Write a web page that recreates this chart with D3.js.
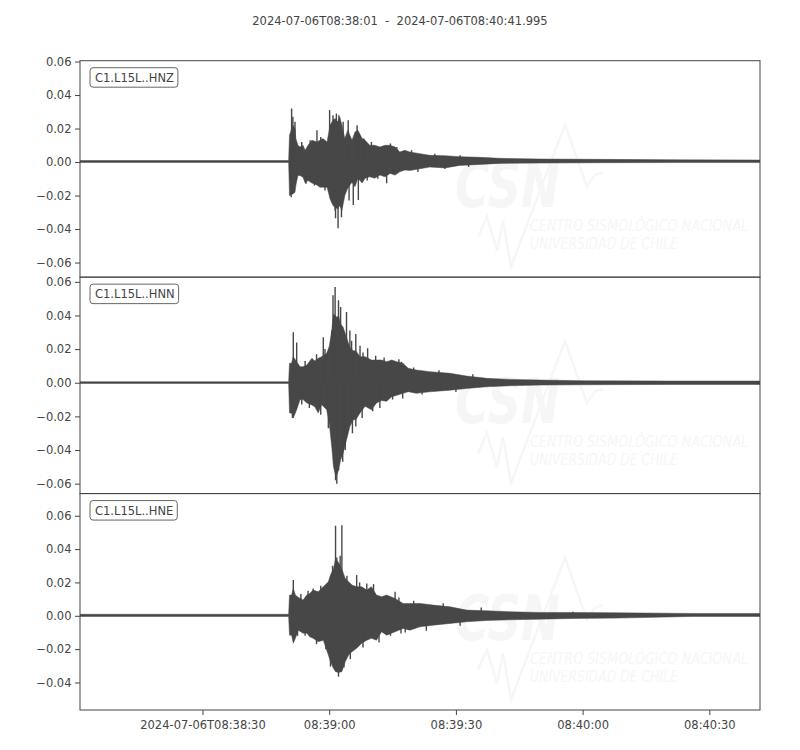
<!DOCTYPE html>
<html>
<head>
<meta charset="utf-8">
<script src="https://cdn.jsdelivr.net/npm/d3@7"></script>
<style>
  body { margin: 0; background: #fff; }
  svg { font-family: "DejaVu Sans", sans-serif; }
</style>
</head>
<body>
<div id="chart"></div>
<script>
// data, times are seconds after the start time
var startTime = "2024-07-06T08:38:01";
var endTime = "2024-07-06T08:40:41.995";
var traceIds = ["C1.L15L..HNZ", "C1.L15L..HNN", "C1.L15L..HNE"];
var yDomains = [[-0.0687, 0.0605], [-0.0659, 0.0628], [-0.0565, 0.0733]];
var yTicks = [
  [-0.06, -0.04, -0.02, 0, 0.02, 0.04, 0.06],
  [-0.06, -0.04, -0.02, 0, 0.02, 0.04, 0.06],
  [-0.04, -0.02, 0, 0.02, 0.04, 0.06]
];
var xTicks = ["08:38:30", "08:39:00", "08:39:30", "08:40:00", "08:40:30"];
var xTickLabels = ["2024-07-06T08:38:30", "08:39:00", "08:39:30", "08:40:00", "08:40:30"];

// HNZ envelope
var hnzT  = [0, 49.4, 49.6, 50.4, 50.9, 51.1, 51.6, 52.1, 52.8, 53.3, 54.0, 54.9, 56.1, 56.8, 57.5, 58.5, 59.2, 59.9, 60.4, 61.0,
             61.5, 62.0, 62.7, 63.4, 64.4, 65.1, 65.8, 66.8, 67.5, 68.6, 69.8, 71.0, 72.2, 73.4, 74.6, 75.7, 76.9, 78.1, 80.5, 82.8,
             86.4, 89.9, 94.7, 99.4, 108.9, 123.1, 142.0, 161.0];
var hnzHi = [0.0009, 0.0009, 0.016, 0.022, 0.020, 0.014, 0.010, 0.009, 0.010, 0.007, 0.010, 0.013, 0.012, 0.013, 0.014, 0.012, 0.022, 0.025, 0.026, 0.024,
             0.027, 0.022, 0.014, 0.019, 0.013, 0.018, 0.019, 0.014, 0.013, 0.010, 0.010, 0.009, 0.010, 0.010, 0.009, 0.006, 0.007, 0.006, 0.005, 0.004,
             0.0038, 0.0032, 0.0028, 0.0022, 0.0018, 0.0016, 0.0013, 0.0012];
var hnzLo = [-0.0002, -0.0002, -0.020, -0.019, -0.018, -0.014, -0.008, -0.008, -0.009, -0.0125, -0.011, -0.0125, -0.0137, -0.015, -0.015, -0.015, -0.022, -0.026, -0.027, -0.028,
             -0.026, -0.029, -0.020, -0.0155, -0.012, -0.0147, -0.0097, -0.0125, -0.0096, -0.0088, -0.0096, -0.0078, -0.0088, -0.0068, -0.0078, -0.0058, -0.0048, -0.005, -0.004, -0.003,
             -0.0035, -0.002, -0.0014, -0.0008, -0.0006, -0.0004, -0.0003, -0.0003];
var hnzSpikeT = [50.1, 50.4, 50.0, 50.9, 52.5, 53.5, 54.5, 55.5, 56.1, 57.0, 58.0, 59.1, 59.9, 60.4, 60.5, 60.7, 61.1, 61.3, 61.9, 62.3,
                 63.5, 63.7, 64.7, 65.6, 65.9, 66.0, 67.2, 68.0, 69.0, 70.5, 72.6, 73.5, 75.0, 78.5, 80.0, 84.0, 86.4, 90.0, 92.0];
var hnzSpikeV = [0.032, 0.027, -0.021, 0.024, 0.012, -0.013, 0.013, -0.014, 0.019, 0.015, -0.017, 0.031, 0.028, -0.029, -0.0336, 0.029, -0.0395, 0.028, -0.033, 0.024,
                 0.025, -0.023, -0.0257, 0.022, -0.0227, 0.017, 0.014, -0.011, 0.012, -0.010, -0.0127, 0.011, 0.009, 0.007, -0.006, 0.005, -0.0042, 0.004, -0.003];

// HNN envelope
var hnnT  = [0, 49.4, 49.6, 50.1, 50.5, 51.3, 52.1, 52.8, 53.7, 54.9, 55.6, 56.4, 57.2, 58.4, 59.0, 59.6, 60.0, 60.4, 60.8, 61.2,
             61.7, 62.3, 63.1, 63.9, 64.7, 65.3, 66.3, 67.5, 69.0, 70.2, 71.4, 72.6, 73.8, 75.0, 76.5, 77.7, 79.6, 82.8, 87.6, 91.5,
             96.3, 101.8, 108.9, 119.0, 140.0, 161.0];
var hnnHi = [0.0006, 0.0006, 0.0116, 0.0116, 0.0155, 0.0125, 0.0095, 0.0095, 0.0105, 0.0145, 0.013, 0.0145, 0.0155, 0.0175, 0.0215, 0.031, 0.041, 0.040, 0.039, 0.040,
             0.035, 0.033, 0.027, 0.021, 0.019, 0.019, 0.0155, 0.0155, 0.0135, 0.0135, 0.0135, 0.0125, 0.0135, 0.0125, 0.0115, 0.0086, 0.0076, 0.0066, 0.0056, 0.004,
             0.0026, 0.002, 0.0016, 0.0012, 0.0010, 0.0010];
var hnnLo = [-0.0004, -0.0004, -0.018, -0.018, -0.021, -0.016, -0.010, -0.010, -0.012, -0.0133, -0.0143, -0.018, -0.013, -0.016, -0.024, -0.038, -0.050, -0.054, -0.055, -0.052,
             -0.046, -0.042, -0.034, -0.026, -0.022, -0.022, -0.018, -0.014, -0.016, -0.012, -0.0106, -0.011, -0.0083, -0.0075, -0.0063, -0.0053, -0.0063, -0.0054, -0.0044, -0.0034,
             -0.0024, -0.0018, -0.0014, -0.0012, -0.0010, -0.0010];
var hnnSpikeT = [50.5, 51.3, 50.3, 52.5, 53.3, 54.3, 56.0, 57.0, 57.6, 58.0, 58.8, 59.6, 59.9, 60.4, 60.5, 60.8, 61.2, 61.2, 61.7, 62.2,
                 62.8, 63.1, 63.9, 64.3, 64.5, 65.3, 65.3, 66.3, 66.8, 67.0, 68.1, 69.3, 70.0, 71.0, 72.0, 74.0, 75.5, 76.1, 76.4, 79.0,
                 81.0, 85.0, 89.0, 93.0];
var hnnSpikeV = [0.030, 0.024, -0.021, -0.013, 0.013, -0.015, 0.017, -0.019, 0.027, 0.020, -0.027, 0.031, 0.052, 0.057, -0.058, -0.060, 0.049, -0.052, 0.045, -0.047,
                 -0.040, 0.042, 0.031, 0.025, -0.030, 0.029, -0.026, 0.022, -0.021, 0.018, 0.0205, -0.017, 0.016, -0.015, 0.015, -0.010, 0.014, 0.0125, -0.0093, 0.009,
                 -0.007, 0.0075, -0.0055, 0.005];

// HNE envelope
var hneT  = [0, 49.4, 49.6, 50.1, 50.5, 51.0, 51.7, 52.8, 53.7, 54.4, 55.2, 56.4, 57.6, 58.8, 59.3, 60.0, 60.5, 61.2, 62.0, 62.8,
             63.6, 64.4, 65.5, 66.7, 67.9, 69.0, 70.2, 71.4, 72.6, 74.6, 76.5, 78.1, 80.5, 83.6, 87.6, 91.5, 96.3, 101.8, 108.9, 116.7,
             127.0, 145.0, 161.0];
var hneHi = [0.0009, 0.0009, 0.0124, 0.0124, 0.0164, 0.0124, 0.011, 0.0095, 0.0124, 0.0134, 0.0154, 0.0144, 0.0174, 0.0204, 0.0244, 0.028, 0.034, 0.032, 0.028, 0.0224,
             0.0204, 0.0184, 0.0174, 0.0174, 0.0154, 0.0174, 0.0124, 0.0114, 0.0124, 0.0104, 0.0074, 0.0074, 0.0074, 0.0064, 0.0054, 0.0034, 0.003, 0.0024, 0.002, 0.002,
             0.0018, 0.0014, 0.0014];
var hneLo = [-0.0004, -0.0004, -0.0116, -0.0116, -0.0165, -0.0135, -0.0086, -0.0104, -0.0104, -0.0126, -0.0135, -0.0156, -0.0146, -0.0235, -0.0275, -0.0315, -0.0335, -0.034, -0.0335, -0.0275,
             -0.0235, -0.0215, -0.0195, -0.0165, -0.0146, -0.0135, -0.0146, -0.0096, -0.0116, -0.0096, -0.0076, -0.0086, -0.0066, -0.0056, -0.0046, -0.0036, -0.0028, -0.0024, -0.002, -0.0016,
             -0.0014, -0.0004, -0.0004];
var hneSpikeT = [50.5, 51.5, 52.3, 53.3, 54.0, 55.2, 56.0, 57.0, 58.2, 59.3, 59.8, 60.5, 60.8, 61.2, 61.6, 62.0, 62.5, 63.2, 64.0, 65.5,
                 66.2, 67.0, 67.9, 69.5, 70.8, 73.5, 74.6, 75.5, 76.0, 77.0, 79.0, 82.0, 86.0, 90.0, 95.0, 116.7];
var hneSpikeV = [0.0214, -0.012, 0.013, -0.012, 0.015, 0.0164, -0.017, 0.018, -0.020, -0.0305, 0.030, 0.054, 0.035, -0.0365, 0.036, 0.0543, -0.031, 0.024, -0.026, 0.0244,
                 0.020, -0.019, 0.0194, 0.019, -0.016, -0.012, 0.0144, 0.011, -0.0106, -0.0100, 0.009, -0.009, 0.0075, -0.006, 0.005, 0.0024];

//styles
var textColor = "#444";
var frameColor = "#444";
var waveColor = "#474747";
var markColor = "#f6f6f6";
var fontSize = 11.5;
var plotLeft = 80, plotRight = 760, plotTop = 60.7, plotBottom = 710;
var panelHeight = (plotBottom - plotTop) / 3;

var t0 = new Date(startTime + "Z");
var t1 = new Date(endTime + "Z");
function at(s) { return new Date(t0.getTime() + s * 1000); }

var traces = [
  {t: hnzT, hi: hnzHi, lo: hnzLo, spikeT: hnzSpikeT, spikeV: hnzSpikeV},
  {t: hnnT, hi: hnnHi, lo: hnnLo, spikeT: hnnSpikeT, spikeV: hnnSpikeV},
  {t: hneT, hi: hneHi, lo: hneLo, spikeT: hneSpikeT, spikeV: hneSpikeV}
];

var svg = d3.select("#chart").append("svg")
  .attr("width", 800)
  .attr("height", 750);

var x = d3.scaleUtc().domain([t0, t1]).range([plotLeft, plotRight]);

// title
svg.append("text")
  .attr("x", 400)
  .attr("y", 25)
  .attr("text-anchor", "middle")
  .style("white-space", "pre")
  .style("font-size", fontSize + "px")
  .attr("fill", textColor)
  .text(startTime + "  -  " + endTime);

traces.forEach(function (tr, i) {
  var top = plotTop + i * panelHeight;
  var y = d3.scaleLinear().domain(yDomains[i]).range([top + panelHeight, top]);

  svg.append("clipPath").attr("id", "clip" + i)
    .append("rect")
    .attr("x", plotLeft).attr("y", top)
    .attr("width", plotRight - plotLeft).attr("height", panelHeight);

  var panel = svg.append("g").attr("clip-path", "url(#clip" + i + ")");

  // faint CSN watermark
  var mark = panel.append("g").attr("transform", "translate(0," + top + ")");
  mark.append("polyline")
    .attr("points", "478,176 487,156 497,190 503,160 511,206 565,64 587,126 595,114 603,112")
    .attr("fill", "none")
    .attr("stroke", markColor)
    .attr("stroke-width", 2.5);
  mark.append("text")
    .attr("x", 455).attr("y", 146)
    .attr("textLength", 105).attr("lengthAdjust", "spacingAndGlyphs")
    .style("font-size", "62px").style("font-weight", "bold").style("font-style", "italic")
    .attr("fill", markColor)
    .text("CSN");
  mark.append("text")
    .attr("x", 530).attr("y", 170)
    .attr("textLength", 218).attr("lengthAdjust", "spacingAndGlyphs")
    .style("font-family", "'Liberation Sans Narrow', 'DejaVu Sans Condensed', sans-serif")
    .style("font-size", "15px").style("font-style", "italic")
    .attr("fill", markColor)
    .text("CENTRO SISMOLÓGICO NACIONAL");
  mark.append("text")
    .attr("x", 530).attr("y", 188)
    .attr("textLength", 148).attr("lengthAdjust", "spacingAndGlyphs")
    .style("font-family", "'Liberation Sans Narrow', 'DejaVu Sans Condensed', sans-serif")
    .style("font-size", "15px").style("font-style", "italic")
    .attr("fill", markColor)
    .text("UNIVERSIDAD DE CHILE");

  // waveform envelope
  var pts = tr.t.map(function (d, k) { return {t: d, hi: tr.hi[k], lo: tr.lo[k]}; });
  var area = d3.area()
    .x(function (d) { return x(at(d.t)); })
    .y0(function (d) { return y(d.lo); })
    .y1(function (d) { return y(d.hi); });
  panel.append("path")
    .datum(pts)
    .attr("d", area)
    .attr("fill", waveColor)
    .attr("stroke", waveColor)
    .attr("stroke-width", 0.5);

  // single peaks
  var spikes = tr.spikeT.map(function (d, k) { return {t: d, v: tr.spikeV[k]}; });
  panel.selectAll(".spike" + i)
    .data(spikes)
    .enter().append("line")
    .attr("class", "spike" + i)
    .attr("x1", function (d) { return x(at(d.t)); })
    .attr("x2", function (d) { return x(at(d.t)); })
    .attr("y1", y(0))
    .attr("y2", function (d) { return y(d.v); })
    .attr("stroke", waveColor)
    .attr("stroke-width", 1.4);

  // frame
  svg.append("rect")
    .attr("x", plotLeft).attr("y", top)
    .attr("width", plotRight - plotLeft).attr("height", panelHeight)
    .attr("fill", "none")
    .attr("stroke", frameColor)
    .attr("stroke-width", 1);

  // y axis
  var yAxis = svg.append("g")
    .attr("transform", "translate(" + plotLeft + ",0)")
    .call(d3.axisLeft(y).tickValues(yTicks[i]).tickFormat(d3.format(".2f")).tickSize(5).tickPadding(3.5));
  yAxis.select(".domain").remove();
  yAxis.selectAll("line").attr("stroke", frameColor);
  yAxis.selectAll("text").attr("fill", textColor).style("font-size", fontSize + "px").style("font-family", "'DejaVu Sans', sans-serif");

  // trace label box
  var lab = svg.append("g");
  var labText = lab.append("text")
    .attr("x", 95).attr("y", top + 21.3)
    .style("font-size", fontSize + "px")
    .attr("fill", textColor)
    .text(traceIds[i]);
  var w = labText.node().getComputedTextLength();
  lab.insert("rect", "text")
    .attr("x", 90).attr("y", top + 7)
    .attr("width", w + 9).attr("height", 19.5)
    .attr("rx", 3).attr("ry", 3)
    .attr("fill", "#fff")
    .attr("stroke", "#666")
    .attr("stroke-width", 1);

  // x axis on the last panel
  if (i === traces.length - 1) {
    var xAxis = svg.append("g")
      .attr("transform", "translate(0," + plotBottom + ")")
      .call(d3.axisBottom(x)
        .tickValues(xTicks.map(function (d) { return new Date("2024-07-06T" + d + "Z"); }))
        .tickFormat(function (d, k) { return xTickLabels[k]; })
        .tickSize(5).tickPadding(5.5));
    xAxis.select(".domain").remove();
    xAxis.selectAll("line").attr("stroke", frameColor);
    xAxis.selectAll("text").attr("fill", textColor).style("font-size", fontSize + "px").style("font-family", "'DejaVu Sans', sans-serif");
  }
});
</script>
</body>
</html>
